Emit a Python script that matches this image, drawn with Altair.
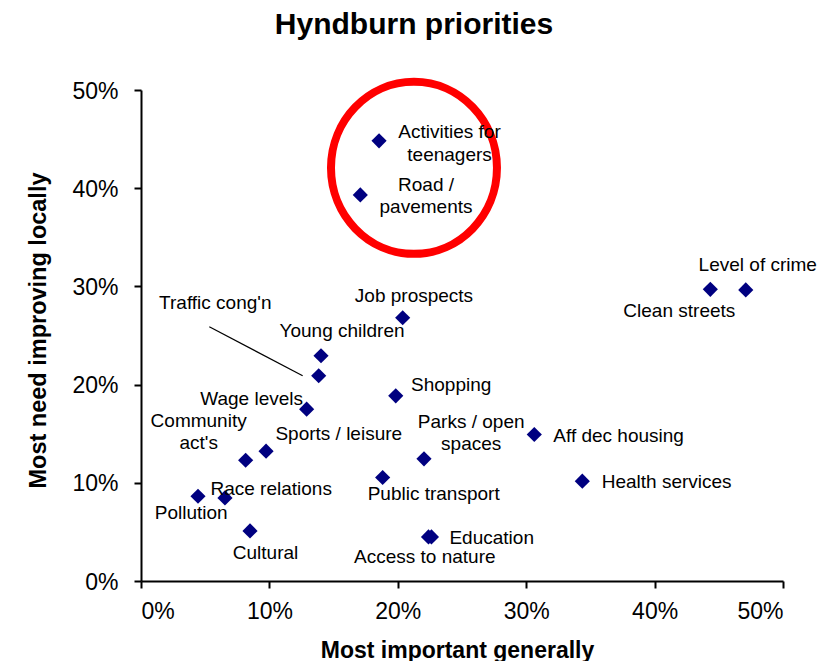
import altair as alt
import pandas as pd

# ---- data ----
names = ["Activities for\nteenagers", "Road /\npavements", "Level of crime", "Clean streets",
         "Job prospects", "Young children", "Traffic cong'n", "Shopping", "Wage levels",
         "Community\nact's", "Sports / leisure", "Parks / open\nspaces", "Aff dec housing",
         "Public transport", "Health services", "Race relations", "Pollution", "Cultural",
         "Education", "Access to nature"]
most_important = [0.1854, 0.1708, 0.4710, 0.4434, 0.2038, 0.1402, 0.1384, 0.1984, 0.1290,
                  0.0815, 0.0974, 0.2204, 0.3063, 0.1882, 0.3437, 0.0654, 0.0444, 0.0849,
                  0.2262, 0.2239]
need_improving = [0.4482, 0.3932, 0.2964, 0.2970, 0.2681, 0.2294, 0.2090, 0.1886, 0.1750,
                  0.1230, 0.1322, 0.1244, 0.1492, 0.1054, 0.1017, 0.0846, 0.0863, 0.0510,
                  0.0449, 0.0449]

# leader line for "Traffic cong'n"
leader_x = [0.0532, 0.1259]
leader_y = [0.2589, 0.2090]

# red highlight ellipse centre
ellipse_x = [0.2126]
ellipse_y = [0.4207]

ticks = [0, 0.1, 0.2, 0.3, 0.4, 0.5]

# label placement (pixel offsets from each marker)
label_layout = {
    "Activities for\nteenagers": (70.5, -2.7, "center"),
    "Road /\npavements": (65.7, -4, "center"),
    "Level of crime": (12, -19.3, "center"),
    "Clean streets": (-31, 27.4, "center"),
    "Job prospects": (11.3, -16, "center"),
    "Young children": (21, -19, "center"),
    "Traffic cong'n": (-103.4, -66.4, "center"),
    "Shopping": (15.3, -5, "left"),
    "Wage levels": (-55, -4, "center"),
    "Community\nact's": (-47, -33.3, "center"),
    "Sports / leisure": (72.7, -11, "center"),
    "Parks / open\nspaces": (47.2, -31, "center"),
    "Aff dec housing": (19, 7.4, "left"),
    "Public transport": (51, 22.7, "center"),
    "Health services": (19.4, 7.3, "left"),
    "Race relations": (46.2, -2.7, "center"),
    "Pollution": (-6.8, 22.3, "center"),
    "Cultural": (15.5, 27.6, "center"),
    "Education": (18, 6.6, "left"),
    "Access to nature": (-3.7, 25.6, "center"),
}

FONT = "Liberation Sans"

df = pd.DataFrame({"name": names, "x": most_important, "y": need_improving})
lead_df = pd.DataFrame({"x": [leader_x[0]], "x2": [leader_x[1]],
                        "y": [leader_y[0]], "y2": [leader_y[1]]})
ell_df = pd.DataFrame({"x": ellipse_x, "y": ellipse_y})

xscale = alt.Scale(domain=[0, 0.5], nice=False, zero=False)
yscale = alt.Scale(domain=[0, 0.5], nice=False, zero=False)

xaxis = alt.Axis(format=".0%", values=ticks, grid=False, title="Most important generally",
                 titleFontSize=23, titleFont=FONT, titleFontWeight="bold", titleColor="black",
                 titleX=316, titleY=76, titleBaseline="alphabetic", titleAlign="center",
                 labelFontSize=23, labelFont=FONT, labelColor="black",
                 labelBaseline="alphabetic", labelPadding=30, tickSize=7, tickWidth=2,
                 tickColor="black", domainColor="black", domainWidth=2)
yaxis = alt.Axis(format=".0%", values=ticks, grid=False, title="Most need improving locally",
                 titleFontSize=23.5, titleFont=FONT, titleFontWeight="bold", titleColor="black",
                 titleX=-96, titleY=240, titleBaseline="alphabetic", titleAlign="center",
                 titleAngle=270,
                 labelFontSize=23, labelFont=FONT, labelColor="black", labelPadding=16,
                 labelOffset=1, tickSize=7, tickWidth=2, tickColor="black",
                 domainColor="black", domainWidth=2)

base = alt.Chart(df)

points = base.mark_point(shape="diamond", filled=True, size=230, color="#000080",
                         opacity=1, strokeWidth=0).encode(
    x=alt.X("x:Q", scale=xscale, axis=xaxis),
    y=alt.Y("y:Q", scale=yscale, axis=yaxis),
)

ellipse_path = "M 0,-1 A 0.965,1 0 1,1 0,1 A 0.965,1 0 1,1 0,-1 Z"
ellipse = alt.Chart(ell_df).mark_point(shape=ellipse_path, filled=False, size=29584,
                                       color="#FF0000", strokeWidth=8, opacity=1).encode(
    x=alt.X("x:Q", scale=xscale), y=alt.Y("y:Q", scale=yscale))

leader = alt.Chart(lead_df).mark_rule(color="black", strokeWidth=1.2).encode(
    x=alt.X("x:Q", scale=xscale), x2="x2:Q",
    y=alt.Y("y:Q", scale=yscale), y2="y2:Q")

label_layers = []
for nm, (dx, dy, al) in label_layout.items():
    label_layers.append(
        base.transform_filter(alt.datum.name == nm).mark_text(
            dx=dx, dy=dy, align=al, baseline="alphabetic", lineBreak="\n",
            lineHeight=22.5, font=FONT, fontSize=19, color="black").encode(
            x=alt.X("x:Q", scale=xscale), y=alt.Y("y:Q", scale=yscale), text="name:N")
    )

chart = alt.layer(ellipse, leader, points, *label_layers).properties(
    width=642, height=491,
    autosize=alt.AutoSizeParams(type="none"),
    padding={"left": 133, "top": 82, "right": 36, "bottom": 80},
    title=alt.TitleParams("Hyndburn priorities", fontSize=30, fontWeight="bold", font=FONT,
                          anchor="middle", dx=-48, offset=26, color="black"),
).configure(background="white",
            view=alt.ViewConfig(stroke="transparent", strokeWidth=0, strokeOpacity=0))

chart.save("out.html", embed_options={"renderer": "svg", "actions": False})
